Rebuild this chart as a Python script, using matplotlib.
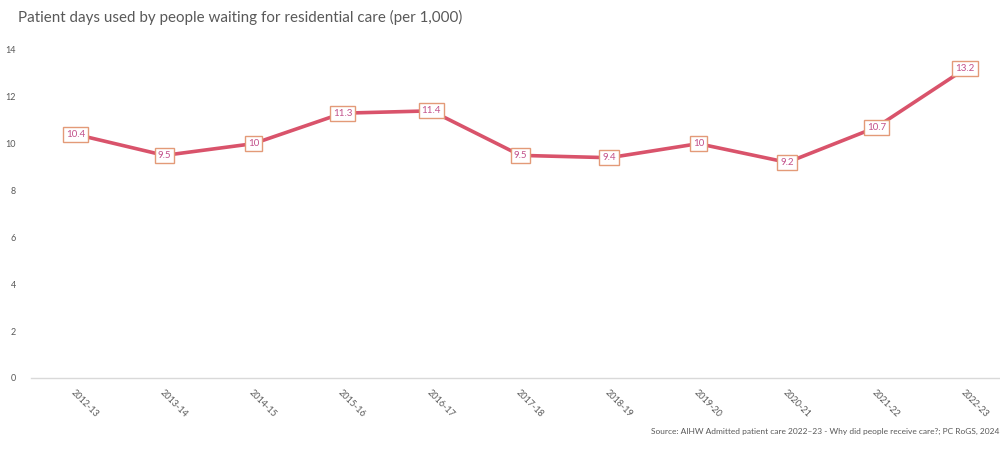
import matplotlib.pyplot as plt

years = ["2012-13", "2013-14", "2014-15", "2015-16", "2016-17", "2017-18",
         "2018-19", "2019-20", "2020-21", "2021-22", "2022-23"]
values = [10.4, 9.5, 10, 11.3, 11.4, 9.5, 9.4, 10, 9.2, 10.7, 13.2]
yticks = [0, 2, 4, 6, 8, 10, 12, 14]

plt.rcParams['font.family'] = ['Lato', 'DejaVu Sans']

fig = plt.figure(figsize=(10, 4.71), dpi=100)
ax = fig.add_axes([0.031, 0.1975, 0.969, 0.6965])

x = list(range(len(years)))
ax.plot(x, values, color="#d9536b", linewidth=2.6, solid_capstyle="round", zorder=2)

for xi, v in zip(x, values):
    ax.text(xi, v, "{:g}".format(v), ha="center", va="center", fontsize=7,
            color="#c2508a", zorder=3,
            bbox=dict(boxstyle="square,pad=0.32", facecolor="white",
                      edgecolor="#e39a78", linewidth=1))

ax.set_xlim(-0.5, 10.39)
ax.set_ylim(0, 14)
ax.set_yticks(yticks)
ax.set_yticklabels([str(t) for t in yticks], fontsize=6.5, color="#595959")
ax.set_xticks(x)
ax.set_xticklabels(years, rotation=-45, ha="left", rotation_mode="anchor",
                   fontsize=6.5, color="#595959")
ax.tick_params(axis="both", length=0)
ax.tick_params(axis="x", pad=7)
ax.tick_params(axis="y", pad=11)

for s in ["top", "right", "left"]:
    ax.spines[s].set_visible(False)
ax.spines["bottom"].set_color("#d9d9d9")
ax.spines["bottom"].set_linewidth(1)

fig.text(0.018, 0.962, "Patient days used by people waiting for residential care (per 1,000)",
         fontsize=10.9, color="#595959", ha="left", va="center")
fig.text(0.999, 0.083, "Source: AIHW Admitted patient care 2022\u201323 - Why did people receive care?; PC RoGS, 2024",
         fontsize=6, color="#595959", ha="right", va="center")

fig.savefig("out.png", dpi=100)
